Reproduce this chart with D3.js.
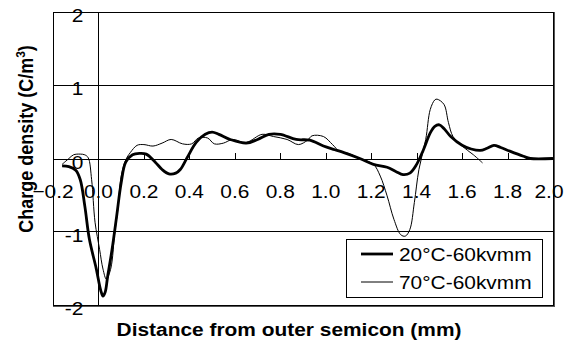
<!DOCTYPE html>
<html>
<head>
<meta charset="utf-8">
<script src="https://cdn.jsdelivr.net/npm/d3@7"></script>
<style>
  html, body { margin: 0; padding: 0; background: #fff; }
  svg { display: block; }
  text { font-family: "Liberation Sans", Arial, sans-serif; fill: #000; }
</style>
</head>
<body>
<svg id="chart" width="565" height="345"></svg>
<script>
// Space-charge profiles across the insulation
const xTicks = [-0.2, 0.0, 0.2, 0.4, 0.6, 0.8, 1.0, 1.2, 1.4, 1.6, 1.8, 2.0];
const yTicks = [-2, -1, 0, 1, 2];
const seriesNames = ["20°C-60kvmm", "70°C-60kvmm"];

const dist20 = [-0.16, -0.13, -0.10, -0.08, -0.06, -0.04, -0.01, 0.01, 0.02, 0.03, 0.04, 0.06, 0.08, 0.10, 0.12, 0.15, 0.18, 0.21, 0.25, 0.28, 0.31, 0.34, 0.36, 0.39, 0.43, 0.47, 0.50, 0.53, 0.58, 0.65, 0.70, 0.75, 0.80, 0.87, 0.93, 0.99, 1.04, 1.08, 1.15, 1.21, 1.27, 1.31, 1.34, 1.37, 1.40, 1.43, 1.46, 1.48, 1.50, 1.52, 1.55, 1.60, 1.64, 1.68, 1.71, 1.74, 1.77, 1.81, 1.87, 1.90, 2.00];
const rho20 = [-0.10, -0.11, -0.16, -0.29, -0.65, -1.10, -1.50, -1.80, -1.88, -1.82, -1.62, -1.24, -0.79, -0.33, -0.05, 0.05, 0.07, 0.06, -0.05, -0.15, -0.21, -0.20, -0.15, 0.01, 0.22, 0.33, 0.36, 0.33, 0.26, 0.21, 0.26, 0.33, 0.33, 0.26, 0.25, 0.17, 0.12, 0.08, 0.00, -0.08, -0.12, -0.18, -0.22, -0.20, -0.08, 0.12, 0.35, 0.44, 0.46, 0.41, 0.30, 0.18, 0.13, 0.11, 0.14, 0.18, 0.15, 0.10, 0.03, 0.00, 0.00];

const dist70 = [-0.16, -0.13, -0.11, -0.08, -0.06, -0.045, -0.03, -0.015, 0.005, 0.02, 0.035, 0.05, 0.06, 0.07, 0.085, 0.10, 0.12, 0.14, 0.17, 0.20, 0.24, 0.28, 0.32, 0.37, 0.41, 0.44, 0.48, 0.51, 0.55, 0.59, 0.65, 0.72, 0.77, 0.83, 0.88, 0.92, 0.94, 0.99, 1.03, 1.06, 1.10, 1.15, 1.21, 1.24, 1.27, 1.30, 1.33, 1.35, 1.37, 1.39, 1.41, 1.44, 1.46, 1.48, 1.49, 1.52, 1.54, 1.56, 1.60, 1.65, 1.69];
const rho70 = [-0.08, 0.00, 0.05, 0.06, 0.05, 0.01, -0.29, -0.87, -1.24, -1.51, -1.65, -1.55, -1.40, -1.06, -0.70, -0.24, -0.02, 0.08, 0.18, 0.19, 0.17, 0.21, 0.26, 0.20, 0.20, 0.28, 0.28, 0.20, 0.21, 0.26, 0.22, 0.33, 0.30, 0.26, 0.19, 0.25, 0.31, 0.30, 0.19, 0.10, 0.07, 0.00, -0.08, -0.24, -0.51, -0.83, -1.04, -1.06, -0.97, -0.60, -0.15, 0.26, 0.67, 0.80, 0.81, 0.74, 0.49, 0.30, 0.17, 0.05, -0.06];

const svg = d3.select("#chart");
const plotL = 53, plotR = 553, plotT = 12, plotB = 305;

const x = d3.scaleLinear().domain([-0.2, 2.0]).range([plotL, plotR]);
const y = d3.scaleLinear().domain([-2, 2]).range([plotB, plotT]);

// horizontal gridlines at the major y values
svg.append("g").selectAll("line")
  .data(yTicks.filter(v => v !== 0))
  .join("line")
  .attr("x1", plotL).attr("x2", plotR)
  .attr("y1", d => y(d)).attr("y2", d => y(d))
  .attr("stroke", "#000").attr("stroke-width", 1)
  .attr("shape-rendering", "crispEdges");

// plot frame
svg.append("rect")
  .attr("x", plotL).attr("y", plotT)
  .attr("width", plotR - plotL).attr("height", plotB - plotT)
  .attr("fill", "none").attr("stroke", "#000").attr("stroke-width", 1)
  .attr("shape-rendering", "crispEdges");
svg.append("path")
  .attr("d", `M${plotR + 1},${plotT} V${plotB + 1} H${plotL}`)
  .attr("fill", "none").attr("stroke", "#555").attr("stroke-width", 1)
  .attr("shape-rendering", "crispEdges");

// x axis crossing at zero, ticks pointing up
const xAxis = svg.append("g")
  .attr("transform", `translate(0,${y(0)})`)
  .call(d3.axisTop(x).tickValues(xTicks).tickSize(6).tickFormat(""));
xAxis.select(".domain").attr("stroke", "#000").attr("shape-rendering", "crispEdges");
xAxis.selectAll(".tick line").attr("stroke", "#000").attr("shape-rendering", "crispEdges");

// x tick labels below the zero line (last one nudged in to stay on the page)
svg.append("g").selectAll("text")
  .data(xTicks)
  .join("text")
  .attr("transform", d => `translate(${Math.min(x(d), plotR - 4)},${y(0) + 39}) scale(1.1,1)`)
  .attr("text-anchor", "middle")
  .style("font-size", "19px")
  .text(d => d3.format(".1f")(d));

// y axis at x = 0
const yAxis = svg.append("g")
  .attr("transform", `translate(${x(0)},0)`)
  .call(d3.axisLeft(y).tickValues(yTicks).tickSize(0).tickFormat(""));
yAxis.select(".domain").attr("stroke", "#000").attr("shape-rendering", "crispEdges");

svg.append("g").selectAll("text")
  .data(yTicks)
  .join("text")
  .attr("transform", d => `translate(${x(0) - 15},${y(d) + 10}) scale(1.1,1)`)
  .attr("text-anchor", "end")
  .style("font-size", "19px")
  .text(d => d);

// data curves
const line = d3.line()
  .x(d => x(d[0]))
  .y(d => y(d[1]))
  .curve(d3.curveCatmullRom.alpha(0.5));

svg.append("path")
  .datum(d3.zip(dist70, rho70))
  .attr("d", line)
  .attr("fill", "none").attr("stroke", "#000").attr("stroke-width", 1);

svg.append("path")
  .datum(d3.zip(dist20, rho20))
  .attr("d", line)
  .attr("fill", "none").attr("stroke", "#000").attr("stroke-width", 2.8);

// axis titles
svg.append("text")
  .attr("transform", `translate(289,336) scale(1.1,1)`)
  .attr("text-anchor", "middle")
  .style("font-size", "19px").style("font-weight", "bold")
  .text("Distance from outer semicon (mm)");

const yTitle = svg.append("text")
  .attr("transform", `translate(33,139) rotate(-90) scale(1,1.12)`)
  .attr("text-anchor", "middle")
  .style("font-size", "18px").style("font-weight", "bold");
yTitle.append("tspan").text("Charge density (C/m");
yTitle.append("tspan").attr("dy", -7).style("font-size", "12px").text("3");
yTitle.append("tspan").attr("dy", 7).text(")");

// legend
const lg = svg.append("g").attr("transform", "translate(346,239)");
lg.append("rect")
  .attr("width", 196).attr("height", 58)
  .attr("fill", "#fff").attr("stroke", "#000").attr("stroke-width", 1)
  .attr("shape-rendering", "crispEdges");
const widths = [2.8, 1];
seriesNames.forEach((name, i) => {
  const yy = 15 + i * 28;
  lg.append("line")
    .attr("x1", 15).attr("x2", 47).attr("y1", yy).attr("y2", yy)
    .attr("stroke", "#000").attr("stroke-width", widths[i]);
  lg.append("text")
    .attr("transform", `translate(53,${yy + 7}) scale(1.1,1)`)
    .style("font-size", "19px")
    .text(name);
});
</script>
</body>
</html>
